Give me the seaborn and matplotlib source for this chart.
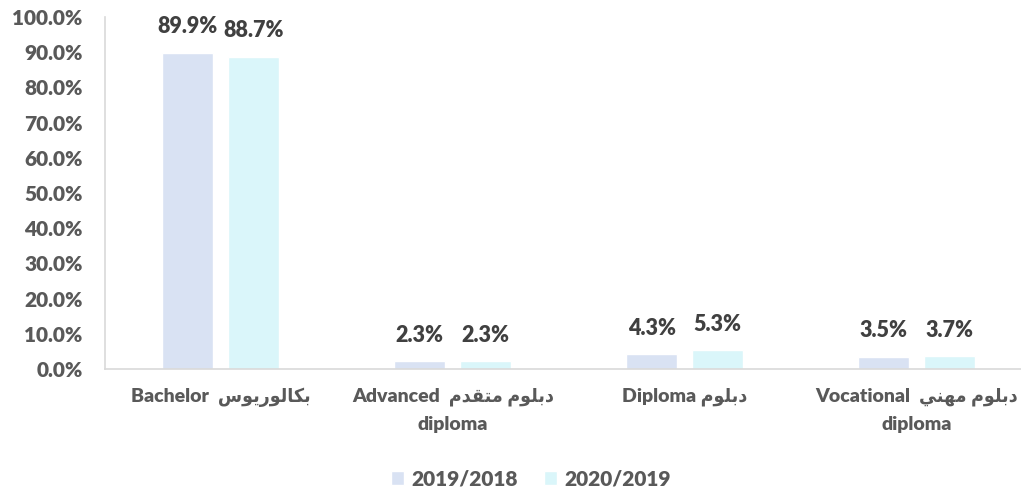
import matplotlib
matplotlib.use("Agg")
import matplotlib.pyplot as plt
from matplotlib import font_manager as fm
from matplotlib.ft2font import FT2Font
import seaborn as sns
import pandas as pd

# ---- data ----
labels_en = ["Bachelor", "Advanced", "Diploma", "Vocational"]
labels_ar = ["بكالوريوس", "دبلوم متقدم", "دبلوم", "دبلوم مهني"]
labels_en_line2 = ["", "diploma", "", "diploma"]
label_gap = ["  ", "  ", " ", "  "]
years = ["2019/2018", "2020/2019"]
values_2019_2018 = [89.9, 2.3, 4.3, 3.5]
values_2020_2019 = [88.7, 2.3, 5.3, 3.7]
y_ticks = [0, 10, 20, 30, 40, 50, 60, 70, 80, 90, 100]

# ---- Arabic contextual shaping (isolated, final, initial, medial) ----
FORMS = {
    "ا": ("\uFE8D", "\uFE8E", None, None),
    "ب": ("\uFE8F", "\uFE90", "\uFE91", "\uFE92"),
    "ت": ("\uFE95", "\uFE96", "\uFE97", "\uFE98"),
    "د": ("\uFEA9", "\uFEAA", None, None),
    "ر": ("\uFEAD", "\uFEAE", None, None),
    "س": ("\uFEB1", "\uFEB2", "\uFEB3", "\uFEB4"),
    "ق": ("\uFED5", "\uFED6", "\uFED7", "\uFED8"),
    "ك": ("\uFED9", "\uFEDA", "\uFEDB", "\uFEDC"),
    "ل": ("\uFEDD", "\uFEDE", "\uFEDF", "\uFEE0"),
    "م": ("\uFEE1", "\uFEE2", "\uFEE3", "\uFEE4"),
    "ن": ("\uFEE5", "\uFEE6", "\uFEE7", "\uFEE8"),
    "ه": ("\uFEE9", "\uFEEA", "\uFEEB", "\uFEEC"),
    "و": ("\uFEED", "\uFEEE", None, None),
    "ي": ("\uFEF1", "\uFEF2", "\uFEF3", "\uFEF4"),
}


def shape_arabic(text):
    chars = list(text)
    out = []
    for i, c in enumerate(chars):
        if c not in FORMS:
            out.append(c)
            continue
        prev = chars[i - 1] if i > 0 else None
        nxt = chars[i + 1] if i + 1 < len(chars) else None
        joins_prev = prev in FORMS and FORMS[prev][2] is not None
        joins_next = nxt in FORMS and FORMS[c][2] is not None
        iso, fin, ini, med = FORMS[c]
        if joins_prev and joins_next:
            out.append(med)
        elif joins_prev:
            out.append(fin)
        elif joins_next:
            out.append(ini)
        else:
            out.append(iso)
    return "".join(reversed(out))


tick_labels = []
for en, ar, gap, second in zip(labels_en, labels_ar, label_gap, labels_en_line2):
    line = en + gap + shape_arabic(ar)
    tick_labels.append(line + ("\n" + second if second else ""))

df = pd.DataFrame({
    "category": tick_labels * 2,
    "year": [years[0]] * 4 + [years[1]] * 4,
    "value": values_2019_2018 + values_2020_2019,
})

# ---- styling ----
sns.set_theme(style="white")
plt.rcParams["font.family"] = ["Lato", "DejaVu Sans"]
plt.rcParams["font.weight"] = 800
plt.rcParams["font.stretch"] = "normal"
TEXT = "#595959"
FS = 15
W = 800
colors = ["#D9E2F3", "#DAF6FA"]

# the category labels use the narrower DejaVu cut for Arabic when it has the glyphs
cond_path = fm.findfont(fm.FontProperties(family="DejaVu Sans", weight="bold",
                                          stretch="condensed"))
use_condensed = (FT2Font(cond_path).get_char_index(0xFEE1) != 0
                 and "Condensed" in cond_path)
xt_stretch = "condensed" if use_condensed else "normal"
xt_size = 14 if use_condensed else 13

fig = plt.figure(figsize=(10.21, 4.94), dpi=100)
ax = fig.add_axes([0.1028, 0.253, 0.8972, 0.7126])

sns.barplot(data=df, x="category", y="value", hue="year", palette=colors,
            width=0.57, gap=0.228, ax=ax, saturation=1, legend=True)

for container in ax.containers:
    ax.bar_label(container, labels=[f"{v:.1f}%" for v in container.datavalues],
                 padding=11, fontsize=15.5, fontweight=W, color="#404040")

ax.set_ylim(0, 100)
ax.set_xlim(-0.5, 3.45)
ax.set_yticks(y_ticks)
ax.set_yticklabels([f"{t:.1f}%" for t in y_ticks], fontsize=FS,
                   fontweight=W, color=TEXT)
ax.set_xticks(range(4))
ax.set_xticklabels(tick_labels, fontsize=xt_size, fontweight=W, color=TEXT,
                   fontstretch=xt_stretch, linespacing=1.75)
ax.tick_params(axis="y", length=0, pad=16)
ax.tick_params(axis="x", length=0, pad=13)
ax.set_xlabel("")
ax.set_ylabel("")

for side in ["top", "right"]:
    ax.spines[side].set_visible(False)
for side in ["left", "bottom"]:
    ax.spines[side].set_color("#D9D9D9")
    ax.spines[side].set_linewidth(1.2)

handles, labels = ax.get_legend_handles_labels()
ax.legend_.remove()
leg = fig.legend(handles, labels, loc="center", bbox_to_anchor=(0.52, 0.03),
                 ncol=2, frameon=False, fontsize=FS, handlelength=0.65,
                 handleheight=0.65, columnspacing=1.25, handletextpad=0.35)
for t in leg.get_texts():
    t.set_color(TEXT)
    t.set_fontweight(W)

fig.savefig("out.png", dpi=100)
